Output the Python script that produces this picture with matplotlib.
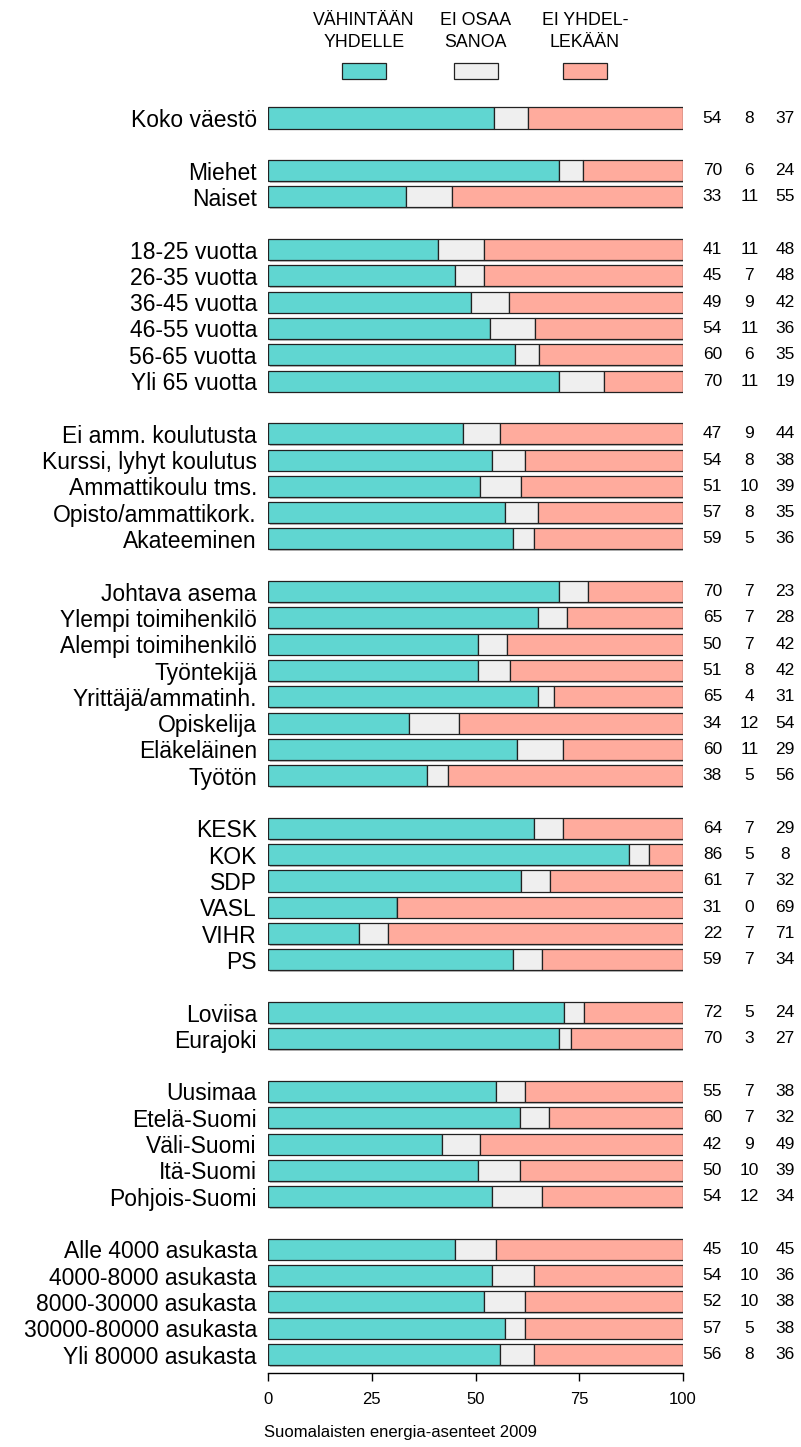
import numpy as np
import matplotlib
matplotlib.use("Agg")
import matplotlib.pyplot as plt
import matplotlib.patheffects as pe
from matplotlib.patches import Rectangle

plt.rcParams['font.family'] = ['Liberation Sans', 'DejaVu Sans']

# ryhmät (tyhjä rivi ryhmien välissä)
ryhmat = [
    ["Koko väestö"],
    ["Miehet", "Naiset"],
    ["18-25 vuotta", "26-35 vuotta", "36-45 vuotta", "46-55 vuotta",
     "56-65 vuotta", "Yli 65 vuotta"],
    ["Ei amm. koulutusta", "Kurssi, lyhyt koulutus", "Ammattikoulu tms.",
     "Opisto/ammattikork.", "Akateeminen"],
    ["Johtava asema", "Ylempi toimihenkilö", "Alempi toimihenkilö", "Työntekijä",
     "Yrittäjä/ammatinh.", "Opiskelija", "Eläkeläinen", "Työtön"],
    ["KESK", "KOK", "SDP", "VASL", "VIHR", "PS"],
    ["Loviisa", "Eurajoki"],
    ["Uusimaa", "Etelä-Suomi", "Väli-Suomi", "Itä-Suomi", "Pohjois-Suomi"],
    ["Alle 4000 asukasta", "4000-8000 asukasta", "8000-30000 asukasta",
     "30000-80000 asukasta", "Yli 80000 asukasta"],
]

vahintaan = [54,
             70, 33,
             41, 45, 49, 54, 60, 70,
             47, 54, 51, 57, 59,
             70, 65, 50, 51, 65, 34, 60, 38,
             64, 86, 61, 31, 22, 59,
             72, 70,
             55, 60, 42, 50, 54,
             45, 54, 52, 57, 56]
ei_osaa = [8,
           6, 11,
           11, 7, 9, 11, 6, 11,
           9, 8, 10, 8, 5,
           7, 7, 7, 8, 4, 12, 11, 5,
           7, 5, 7, 0, 7, 7,
           5, 3,
           7, 7, 9, 10, 12,
           10, 10, 10, 5, 8]
ei_yhdelle = [37,
              24, 55,
              48, 48, 42, 36, 35, 19,
              44, 38, 39, 35, 36,
              23, 28, 42, 42, 31, 54, 29, 56,
              29, 8, 32, 69, 71, 34,
              24, 27,
              38, 32, 49, 39, 34,
              45, 36, 38, 38, 36]

sarjat = ["VÄHINTÄÄN\nYHDELLE", "EI OSAA\nSANOA", "EI YHDEL-\nLEKÄÄN"]
varit = ["#60D6D1", "#EFEFEF", "#FFAB9D"]

# rivien paikat
nimet = []
paikat = []
y = 0
for g in ryhmat:
    for n in g:
        nimet.append(n)
        paikat.append(y)
        y += 1
    y += 1
paikat = np.array(paikat)

arvot = np.array([vahintaan, ei_osaa, ei_yhdelle], dtype=float)
osuudet = arvot / arvot.sum(axis=0) * 100

W, H = 801, 1447
fig = plt.figure(figsize=(W / 100, H / 100), dpi=100)
top_px, bot_px = 104.85, 1372.7
ax = fig.add_axes([268 / W, 1 - bot_px / H, 415 / W, (bot_px - top_px) / H])

varjo = [pe.SimplePatchShadow(offset=(1.2, -1.2), shadow_rgbFace="0.5", alpha=0.5), pe.Normal()]
vasen = np.zeros(len(nimet))
for k in range(3):
    bars = ax.barh(paikat, osuudet[k], left=vasen, height=0.8, color=varit[k],
                   edgecolor="#222222", linewidth=0.9)
    for b in bars:
        b.set_path_effects(varjo)
    vasen += osuudet[k]

# luvut oikealla
sarake_x = [107.1, 116.0, 124.6]
for k in range(3):
    for yy, v in zip(paikat, arvot[k]):
        ax.text(sarake_x[k], yy, f"{int(v)}", ha="center", va="center",
                fontsize=12.5, clip_on=False)

# selite ylhäällä
selite_x = [23.1, 50.1, 76.4]
for k in range(3):
    ax.add_patch(Rectangle((selite_x[k] - 5.3, -1.47), 10.6, -0.63, facecolor=varit[k],
                           edgecolor="#222222", linewidth=0.9, clip_on=False))
    ax.text(selite_x[k], -2.55, sarjat[k], ha="center", va="bottom", fontsize=12.8,
            linespacing=1.35, clip_on=False)

ax.set_xlim(0, 100)
ax.set_ylim(47.69, -0.5)
ax.set_yticks(paikat)
ax.set_yticklabels(nimet, fontsize=16.5)
ax.tick_params(axis="y", length=0, pad=8)
ax.set_xticks([0, 25, 50, 75, 100])
ax.tick_params(axis="x", labelsize=12, length=6, width=1, pad=8)
for s in ["top", "right", "left"]:
    ax.spines[s].set_visible(False)
ax.spines["bottom"].set_linewidth(1)

fig.text(400 / W, 1 - 1433 / H, "Suomalaisten energia-asenteet 2009",
         ha="center", va="center", fontsize=12)

fig.savefig("out.png", dpi=100)
